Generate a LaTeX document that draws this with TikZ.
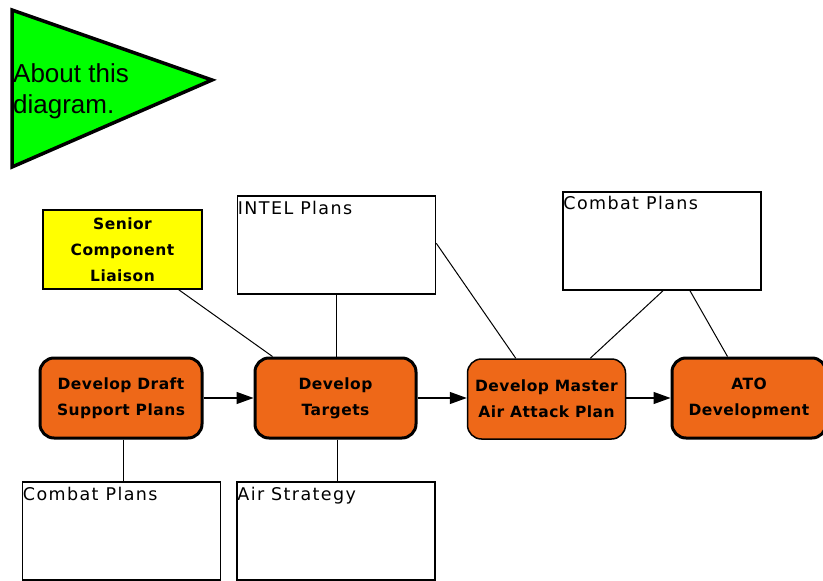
\documentclass[tikz,border=0pt]{standalone}
\usepackage{fontspec}
\setmainfont{Liberation Sans}
\newfontfamily\plainfont[LetterSpace=8]{DejaVu Sans}
\newfontfamily\procfont[LetterSpace=3]{DejaVu Sans}
\usetikzlibrary{arrows.meta,calc}
\definecolor{procorange}{RGB}{238,104,24}
\definecolor{notegreen}{RGB}{0,255,0}
\definecolor{noteyellow}{RGB}{255,255,0}
\tikzset{
  procbox/.style={draw=black, line width=3pt, fill=procorange, rounded corners=14pt,
    minimum width=#1, minimum height=80pt, inner sep=0pt, align=center,
    font=\procfont\bfseries\fontsize{15.5}{26}\selectfont},
  procbox/.default=161pt,
  infobox/.style={draw=black, line width=1.5pt, fill=white, minimum width=198pt, minimum height=98pt, inner sep=0pt},
  boxlabel/.style={anchor=north west, inner sep=0pt, font=\plainfont\fontsize{17.5}{20}\selectfont},
  link/.style={draw=black, line width=1pt},
  flow/.style={draw=black, line width=1.2pt, -{Triangle[length=17pt,width=12pt]}},
}
\begin{document}
\begin{tikzpicture}[x=1pt,y=-1pt]
\useasboundingbox (0,0) rectangle (823,581);
% About triangle
\draw[line width=3.5pt, fill=notegreen, line join=miter] (12,10) -- (212,80) -- (12,167) -- cycle;
\node[anchor=base west, inner sep=0pt, font=\fontsize{26}{31}\selectfont] (about1) at (13,82) {About this};
\node[anchor=base west, inner sep=0pt, font=\fontsize{26}{31}\selectfont] (about2) at (13,113) {diagram.};
% Senior Component Liaison
\node[draw=black, line width=1.5pt, fill=noteyellow, minimum width=159pt, minimum height=79pt, inner sep=0pt,
  align=center, font=\procfont\bfseries\fontsize{15.5}{26}\selectfont] (senior) at (122.5,249.5)
  {Senior\\Component\\Liaison};
% info boxes
\node[infobox] (intel) at (336.5,245) {};
\node[boxlabel] (intellab) at ([xshift=1pt,yshift=-6pt]intel.north west) {INTEL Plans};
\node[infobox] (combattop) at (662,241) {};
\node[boxlabel] (combattoplab) at ([xshift=1pt,yshift=-5pt]combattop.north west) {Combat Plans};
\node[infobox] (combatbot) at (121.5,531) {};
\node[boxlabel] (combatbotlab) at ([xshift=1pt,yshift=-6pt]combatbot.north west) {Combat Plans};
\node[infobox] (airstrat) at (336,531) {};
\node[boxlabel] (airstratlab) at ([xshift=1pt,yshift=-6pt]airstrat.north west) {Air Strategy};
% process boxes
\node[procbox=162pt] (draft) at (121,398) {Develop Draft\\Support Plans};
\node[procbox=161pt] (targets) at (335.5,398) {Develop\\Targets};
\node[procbox=158pt, line width=1.5pt] (master) at (546.5,399) {Develop Master\\Air Attack Plan};
\node[procbox=154pt] (ato) at (749,398) {ATO\\Development};
% flow arrows
\draw[flow] (draft.east) -- (targets.west);
\draw[flow] (targets.east) -- (master.west |- targets.east);
\draw[flow] (master.east |- targets.east) -- (ato.west);
% links
\draw[link] ([xshift=-24pt]senior.south east) -- ([xshift=19pt]targets.north west);
\draw[link] (intel.south) -- (intel.south |- targets.north);
\draw[link] ([yshift=-48pt]intel.north east) -- ([xshift=49pt]master.north west);
\draw[link] ([xshift=1pt]combattop.south) -- ([xshift=-36pt]master.north east);
\draw[link] ([xshift=28pt]combattop.south) -- ([xshift=57pt]ato.north west);
\draw[link] ([xshift=2pt]draft.south) -- ([xshift=1.5pt]combatbot.north);
\draw[link] ([xshift=1.5pt]targets.south) -- ([xshift=1pt]airstrat.north);
\end{tikzpicture}
\end{document}
